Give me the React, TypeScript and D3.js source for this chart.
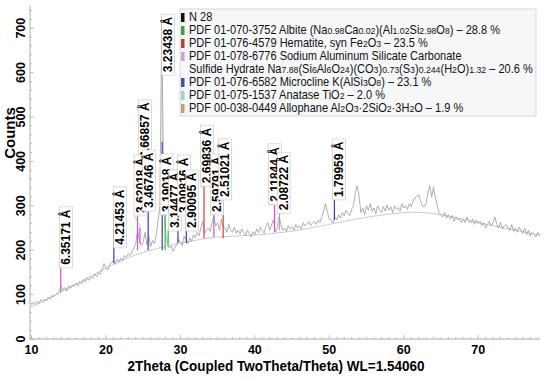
import React, { useLayoutEffect, useRef, useState } from 'react';
import * as d3 from 'd3';

// scan settings (Cu K-alpha)
const wavelength = 1.5406;
const scanStart = 10;
const scanStep = 0.25;

// raw counts, one row per 2 degrees
const rawCounts = [
  75, 82, 78, 85, 80, 88, 84, 90,
  86, 94, 90, 98, 95, 100, 104, 108,
  118, 110, 116, 108, 120, 114, 122, 118,
  126, 120, 130, 124, 134, 128, 138, 132,
  140, 136, 146, 140, 150, 145, 158, 170,
  160, 155, 168, 172, 176, 168, 180, 174,
  182, 176, 188, 184, 192, 188, 196, 205,
  215, 245, 222, 210, 218, 240, 212, 232,
  208, 222, 215, 235, 265, 300, 720, 330,
  240, 215, 205, 210, 198, 206, 212, 225,
  218, 210, 232, 222, 215, 228, 220, 235,
  228, 240, 232, 250, 265, 238, 245, 250,
  242, 262, 275, 255, 262, 245, 270, 252,
  250, 240, 258, 245, 240, 252, 238, 245,
  236, 248, 240, 232, 245, 238, 230, 242,
  235, 248, 240, 252, 245, 238, 255, 262,
  245, 258, 268, 240, 250, 275, 258, 245,
  250, 242, 255, 248, 252, 245, 258, 250,
  255, 248, 262, 255, 258, 265, 256, 262,
  265, 258, 268, 262, 275, 290, 305, 285,
  270, 268, 262, 275, 268, 280, 272, 285,
  278, 290, 282, 278, 292, 300, 330, 345,
  320, 285, 295, 280, 300, 290, 305, 288,
  295, 282, 300, 290, 285, 298, 288, 302,
  290, 298, 285, 300, 292, 296, 288, 305,
  295, 300, 292, 305, 298, 310, 318, 320,
  325, 312, 300, 298, 305, 330, 345, 320,
  342, 318, 300, 285, 278, 275, 285, 272,
  280, 270, 278, 265, 275, 268, 272, 262,
  270, 262, 275, 265, 262, 270, 258, 268,
  260, 265, 255, 262, 250, 258, 265, 255,
  262, 275, 258, 250, 262, 248, 255, 258,
  250, 245, 258, 242, 250, 240, 252, 245,
  238, 250, 235, 245, 232, 240, 235, 230,
  240, 232,
];

// fitted background
const bgAngles = [10, 14, 18, 22, 26, 30, 34, 38, 42, 46, 50, 54, 58, 62, 66, 70, 74, 78.3];
const bgCounts = [72, 105, 142, 178, 202, 215, 230, 232, 236, 245, 258, 272, 282, 288, 278, 262, 248, 234];

// peak list: d-spacing, phase, stick top/bottom (counts), label foot (counts), label column (2theta)
const peakD = [6.35171, 4.21453, 3.66857, 3.62018, 3.46746, 3.23438, 3.19018, 3.14477, 3.00816, 2.90095, 2.69836, 2.59791, 2.51021, 2.11844, 2.08722, 1.79959];
const peakPhase = ['sas', 'mic', 'sas', 'sas', 'mic', 'mic', 'alb', 'alb', 'mic', 'mic', 'hem', 'sas', 'hem', 'sas', 'ana', 'mic'];
const peakTop = [171, 279, 340, 250, 286, 444, 286, 245, 268, 275, 381, 286, 351, 306, 300, 387];
const peakBase = [106, 171, 200, 215, 200, 200, 200, 212, 216, 216, 227, 230, 227, 241, 245, 268];
const labelFoot = [167, 212, 408, 284, 295, 601, 286, 250, 284, 250, 351, 286, 320, 309, 290, 320];
const labelAngle = [14.64, 21.9, 25.26, 24.65, 25.79, 28.35, 28.15, 29.29, 30.5, 31.57, 33.59, 34.93, 36.01, 42.73, 43.87, 51.33];

const xTicks = [10, 20, 30, 40, 50, 60, 70];
const yTicks = [0, 100, 200, 300, 400, 500, 600, 700];

const legendKeys = ['n28', 'alb', 'hem', 'sas', '', 'mic', 'ana', 'all'];
const legendText = [
  'N 28',
  'PDF 01-070-3752 Albite (Na_{0.98}Ca_{0.02})(Al_{1.02}Si_{2.98}O_{8}) – 28.8 %',
  'PDF 01-076-4579 Hematite, syn Fe_{2}O_{3} – 23.5 %',
  'PDF 01-078-6776 Sodium Aluminum Silicate Carbonate',
  'Sulfide Hydrate Na_{7.88}(Si_{6}Al_{6}O_{24})(CO_{3})_{0.73}(S_{3})_{0.244}(H_{2}O)_{1.32} – 20.6 %',
  'PDF 01-076-6582 Microcline K(AlSi_{3}O_{8}) – 23.1 %',
  'PDF 01-075-1537 Anatase TiO_{2} – 2.0 %',
  'PDF 00-038-0449 Allophane Al_{2}O_{3}·2SiO_{2}·3H_{2}O – 1.9 %',
];

const swatch: Record<string, string> = {
  n28: '#111', alb: '#3d9a45', hem: '#a84646', sas: '#cf9fd6',
  mic: '#4a4aa8', ana: '#9fd0d2', all: '#b8a07a',
};
const stickColor: Record<string, string> = {
  alb: '#2fbf3a', hem: '#e03a3a', sas: '#d24fd6', mic: '#3a3ac8', ana: '#a9a9a9',
};

const W = 550, H = 379;
const font = "'Liberation Sans', Arial, sans-serif";
const legendSpan = 344; // width of the longest legend line in the reference

function rich(s: string) {
  const parts: { t: string; sub: boolean }[] = [];
  const re = /_\{([^}]*)\}/g;
  let last = 0, m;
  while ((m = re.exec(s))) {
    if (m.index > last) parts.push({ t: s.slice(last, m.index), sub: false });
    parts.push({ t: m[1], sub: true });
    last = re.lastIndex;
  }
  if (last < s.length) parts.push({ t: s.slice(last), sub: false });
  return parts;
}

const twoTheta = (d: number) => (2 * Math.asin(wavelength / (2 * d)) * 180) / Math.PI;

export default function App() {
  const legendRef = useRef<SVGTextElement>(null);
  const [legendScale, setLegendScale] = useState(1);

  useLayoutEffect(() => {
    if (legendRef.current) {
      const w = legendRef.current.getComputedTextLength();
      if (w > 0) setLegendScale(legendSpan / w);
    }
  }, []);

  const x = d3.scaleLinear().domain([9.8, 78.3]).range([30, 540]);
  const y = d3.scaleLinear().domain([0, 750]).range([339, 6]);

  const scan = rawCounts.map((c, i) => [scanStart + i * scanStep, c] as [number, number]);
  const line = d3.line<[number, number]>().x(d => x(d[0])).y(d => y(d[1]));
  const bgLine = d3.line<[number, number]>().x(d => x(d[0])).y(d => y(d[1])).curve(d3.curveBasis);
  const bg = bgAngles.map((a, i) => [a, bgCounts[i]] as [number, number]);

  const xMinor = d3.range(10, 79, 1);
  const yMinor = d3.range(0, 751, 20);

  return (
    <div style={{ position: 'absolute', left: 0, top: 0 }}>
      <svg width={W} height={H} style={{ display: 'block', background: '#fff' }}>
        {/* axes */}
        <line x1={30} x2={540} y1={339} y2={339} stroke="#999" strokeWidth={0.8} />
        <line x1={30} x2={30} y1={6} y2={339} stroke="#999" strokeWidth={0.8} />
        {xMinor.map(v => (
          <line key={'xm' + v} x1={x(v)} x2={x(v)} y1={339} y2={v % 10 === 0 ? 335 : 337} stroke="#999" strokeWidth={0.6} />
        ))}
        {yMinor.map(v => (
          <line key={'ym' + v} x1={30} x2={v % 100 === 0 ? 34 : 32} y1={y(v)} y2={y(v)} stroke="#999" strokeWidth={0.6} />
        ))}
        {xTicks.map(v => (
          <text key={'xt' + v} x={x(v)} y={354} textAnchor="middle" fontFamily={font} fontWeight="bold" fontSize={12.5}>{v}</text>
        ))}
        {yTicks.map(v => (
          <text key={'yt' + v} transform={`translate(21,${y(v)}) rotate(-90)`} textAnchor="middle" dominantBaseline="central"
            fontFamily={font} fontWeight="bold" fontSize={12.5}>{v}</text>
        ))}
        <text transform="translate(9,133) rotate(-90)" textAnchor="middle" dominantBaseline="central"
          fontFamily={font} fontWeight="bold" fontSize={15}>Counts</text>
        <text x={276} y={371} textAnchor="middle" fontFamily={font} fontWeight="bold" fontSize={15}
          textLength={297} lengthAdjust="spacingAndGlyphs">2Theta (Coupled TwoTheta/Theta) WL=1.54060</text>

        {/* pattern */}
        <path d={bgLine(bg) || ''} fill="none" stroke="#bdbdbd" strokeWidth={0.8} />
        <path d={line(scan) || ''} fill="none" stroke="#9a9a9a" strokeWidth={0.8} />

        {/* sticks */}
        {peakD.map((dv, i) => (
          <line key={'st' + i} x1={x(twoTheta(dv))} x2={x(twoTheta(dv))} y1={y(peakBase[i])} y2={y(peakTop[i])}
            stroke={stickColor[peakPhase[i]]} strokeWidth={1.2} />
        ))}

        {/* labels */}
        {peakD.map((dv, i) => {
          const px = x(twoTheta(dv));
          const lx = x(labelAngle[i]);
          const ly = y(labelFoot[i]);
          const top = y(peakTop[i]);
          return (
            <g key={'lb' + i}>
              <polyline points={`${px},${top} ${px},${Math.max(ly + 3, top - 2)} ${lx - 6},${ly + 3}`}
                fill="none" stroke="#aaa" strokeWidth={0.6} />
              <rect x={lx - 6.5} y={ly - 58} width={13} height={61} fill="#fff" stroke="#c4c4c4" strokeWidth={0.6} />
              <text transform={`translate(${lx},${ly}) rotate(-90)`} dominantBaseline="central"
                fontFamily={font} fontWeight="bold" fontSize={12}>{dv.toFixed(5)} Å</text>
            </g>
          );
        })}

        {/* legend */}
        <rect x={180} y={9} width={356} height={107} fill="#f6f7f9" stroke="#cfcfcf" strokeWidth={0.8} />
        {legendText.map((s, i) => (
          <g key={'lg' + i}>
            {legendKeys[i] && (
              <rect x={181} y={13 + i * 13} width={3.5} height={9} fill={swatch[legendKeys[i]]} />
            )}
            <text ref={i === 4 ? legendRef : undefined}
              transform={`translate(189,${21 + i * 13}) scale(${legendScale},1)`}
              fontFamily={font} fontSize={12} fill="#111">
              {rich(s).map((p, j) => (
                <tspan key={j} fontSize={p.sub ? 9.5 : 12}>{p.t}</tspan>
              ))}
            </text>
          </g>
        ))}
      </svg>
    </div>
  );
}
